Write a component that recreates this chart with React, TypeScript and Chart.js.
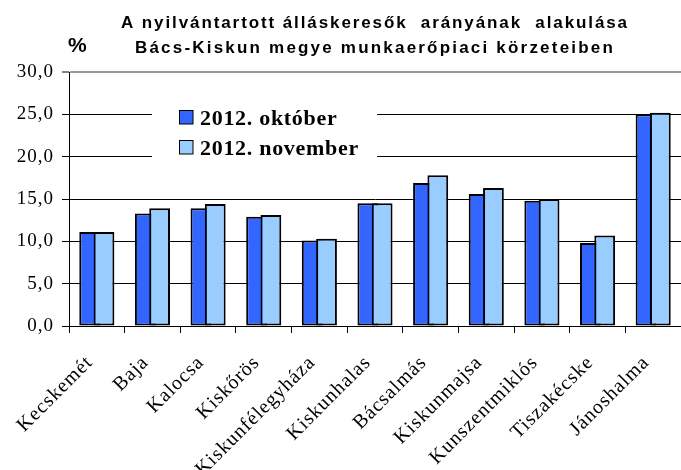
import { useEffect, useRef } from 'react';
import { Chart, registerables } from 'chart.js';

Chart.register(...registerables);

const categories = [
  'Kecskemét',
  'Baja',
  'Kalocsa',
  'Kiskőrös',
  'Kiskunfélegyháza',
  'Kiskunhalas',
  'Bácsalmás',
  'Kiskunmajsa',
  'Kunszentmiklós',
  'Tiszakécske',
  'Jánoshalma',
];
const octoberValues = [11.1, 13.3, 13.9, 12.9, 10.1, 14.5, 16.9, 15.6, 14.8, 9.8, 25.0];
const novemberValues = [11.1, 13.9, 14.4, 13.1, 10.3, 14.5, 17.8, 16.3, 15.0, 10.7, 25.2];
const seriesLabels = ['2012. október', '2012. november'];
const seriesColors = ['#3366FF', '#99CCFF'];
const titleLines = [
  'A nyilvántartott álláskeresők  arányának  alakulása',
  'Bács-Kiskun megye munkaerőpiaci körzeteiben',
];
const yUnitLabel = '%';
const yMin = 0;
const yMax = 30;
const yStep = 5;

const SERIF = '"Liberation Serif", "Times New Roman", serif';
const SANS = '"Liberation Sans", Arial, sans-serif';

export default function App() {
  const ref = useRef<HTMLCanvasElement>(null);

  useEffect(() => {
    if (!ref.current) return;

    const overlayPlugin = {
      id: 'overlay',
      beforeUpdate(chart: any) {
        (chart.ctx as any).letterSpacing = '1px';
      },
      beforeDraw(chart: any) {
        (chart.ctx as any).letterSpacing = '1px';
      },
      beforeDatasetsDraw(chart: any) {
        // first series drawn beneath the second one (second overlaps it)
        const meta = chart.getDatasetMeta(0);
        meta.data.forEach((el: any) => el.draw(chart.ctx));
      },
      beforeDatasetDraw(_chart: any, args: any) {
        if (args.index === 0) return false;
      },
      afterDraw(chart: any) {
        const ctx = chart.ctx as CanvasRenderingContext2D;
        const area = chart.chartArea;
        const cx = (area.left + area.right) / 2;
        ctx.save();
        // title
        ctx.fillStyle = '#000';
        ctx.textAlign = 'center';
        ctx.textBaseline = 'alphabetic';
        ctx.font = `bold 17px ${SANS}`;
        (ctx as any).letterSpacing = '1.9px';
        ctx.fillText(titleLines[0], cx, 28);
        (ctx as any).letterSpacing = '2.2px';
        ctx.fillText(titleLines[1], cx, 53);
        // unit label
        (ctx as any).letterSpacing = '0px';
        ctx.textAlign = 'left';
        ctx.font = `bold 21px ${SANS}`;
        ctx.fillText(yUnitLabel, 68, 52);
        // legend
        const lx = 152;
        const ly = 95;
        ctx.fillStyle = '#fff';
        ctx.fillRect(lx, ly, 225, 77);
        ctx.font = `bold 22px ${SERIF}`;
        (ctx as any).letterSpacing = '0.7px';
        chart.data.datasets.forEach((ds: any, i: number) => {
          const rowY = 110.5 + i * 30;
          ctx.fillStyle = ds.backgroundColor;
          ctx.fillRect(179.5, rowY, 13.5, 13.5);
          ctx.strokeStyle = '#000';
          ctx.lineWidth = 1;
          ctx.strokeRect(179.5, rowY, 13.5, 13.5);
          ctx.fillStyle = '#000';
          ctx.fillText(ds.label, 200, rowY + 14.5);
        });
        ctx.restore();
      },
    };

    const chart = new Chart(ref.current, {
      type: 'bar',
      data: {
        labels: categories,
        datasets: [
          {
            label: seriesLabels[0],
            data: octoberValues,
            backgroundColor: seriesColors[0],
            borderColor: '#000',
            borderWidth: 2,
            borderSkipped: false,
            categoryPercentage: 0.515,
            barPercentage: 1.45,
          },
          {
            label: seriesLabels[1],
            data: novemberValues,
            backgroundColor: seriesColors[1],
            borderColor: '#000',
            borderWidth: 2,
            borderSkipped: false,
            categoryPercentage: 0.515,
            barPercentage: 1.45,
          },
        ],
      },
      options: {
        responsive: false,
        animation: false,
        layout: { padding: { top: 72, left: 0, right: 0, bottom: 0 } },
        plugins: {
          legend: { display: false },
          title: { display: false },
          tooltip: { enabled: false },
        },
        scales: {
          x: {
            type: 'category',
            offset: true,
            grid: {
              offset: true,
              drawOnChartArea: false,
              drawTicks: true,
              tickLength: 7,
              color: '#000',
            },
            border: { display: true, color: '#000', width: 1 },
            ticks: {
              autoSkip: false,
              minRotation: 45,
              maxRotation: 45,
              padding: 18,
              labelOffset: -7,
              color: '#000',
              font: { family: SERIF, size: 20 },
            },
            afterFit(scale: any) {
              scale.height = 144;
              scale.paddingLeft = 0;
              scale.paddingRight = 0;
            },
          },
          y: {
            min: yMin,
            max: yMax,
            ticks: {
              stepSize: yStep,
              padding: 8,
              color: '#000',
              font: { family: SERIF, size: 19 },
              callback: (v: any) => Number(v).toFixed(1).replace('.', ','),
            },
            grid: {
              color: (c: any) => (c.tick && c.tick.value === yMax ? '#999' : '#000'),
              lineWidth: (c: any) => (c.tick && c.tick.value === yMax ? 2 : 1),
              tickColor: '#000',
              tickWidth: 1,
              tickLength: 7,
              drawTicks: true,
            },
            border: { display: true, color: '#000', width: 1 },
            afterFit(scale: any) {
              scale.width = 69;
            },
          },
        },
      },
      plugins: [overlayPlugin],
    });

    return () => chart.destroy();
  }, []);

  return (
    <div style={{ position: 'absolute', left: 0, top: 0, width: 681, height: 470 }}>
      <canvas ref={ref} width={681} height={470} />
    </div>
  );
}
